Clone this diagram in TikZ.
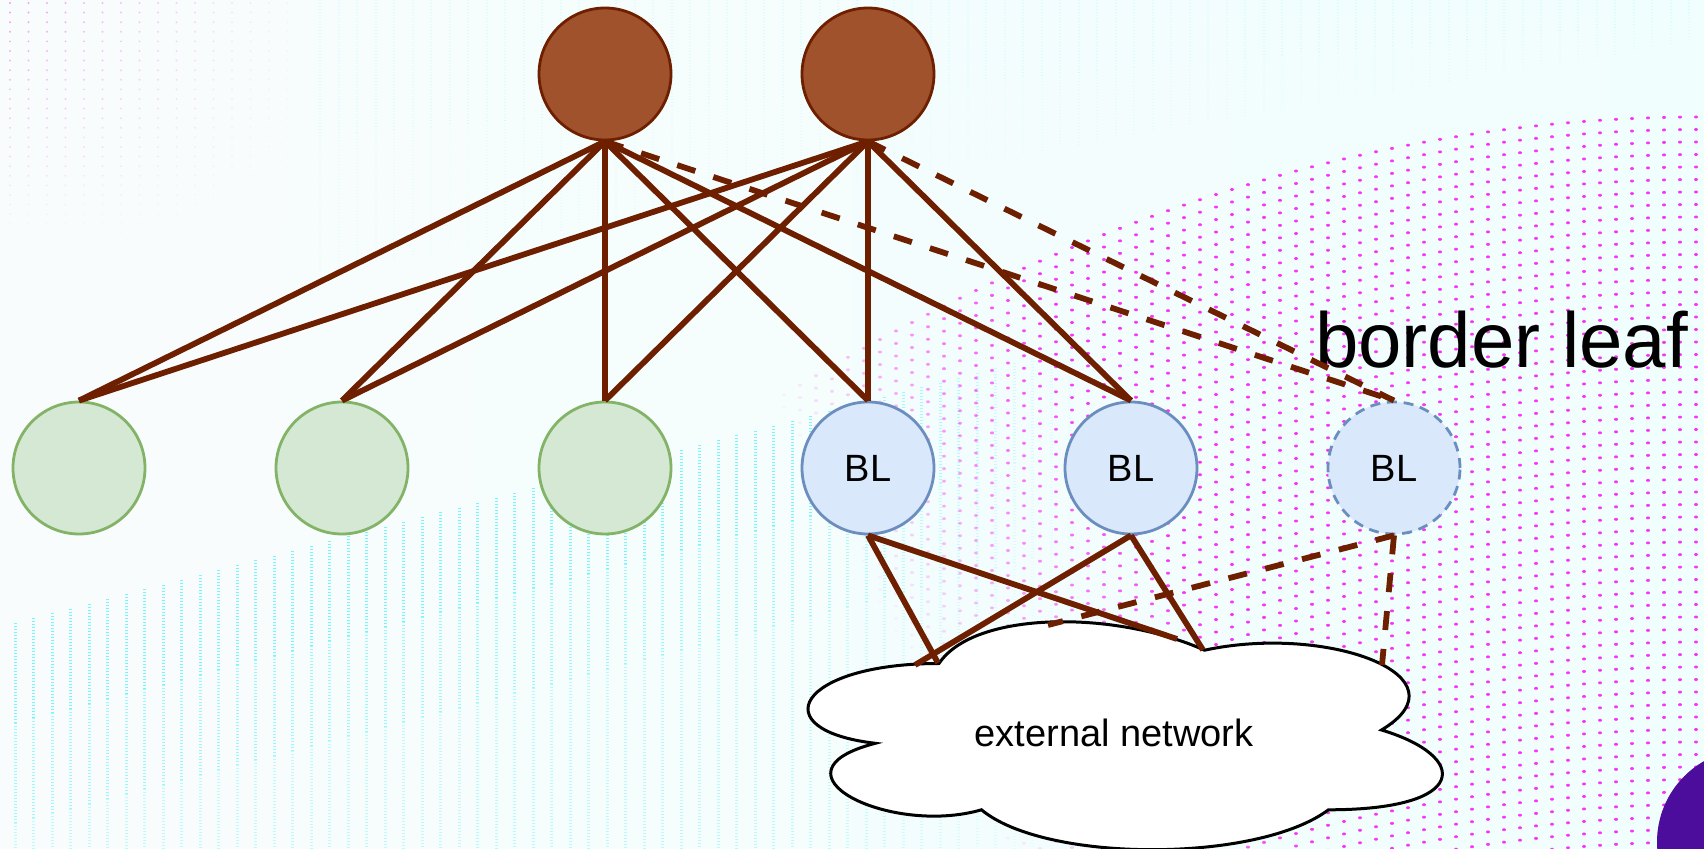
\documentclass[tikz,border=0pt]{standalone}
\usepackage{fontspec}
\setmainfont{Liberation Sans}

\definecolor{spinefill}{RGB}{160,82,45}
\definecolor{linkbrown}{RGB}{109,31,0}
\definecolor{leaffill}{RGB}{213,232,212}
\definecolor{leafdraw}{RGB}{130,179,102}
\definecolor{blfill}{RGB}{218,232,252}
\definecolor{bldraw}{RGB}{108,142,191}
\definecolor{bgleft}{RGB}{249,252,253}
\definecolor{bgright}{RGB}{240,254,253}
\definecolor{dotpink}{RGB}{250,20,245}
\definecolor{dotcyan}{RGB}{30,245,250}
\definecolor{cornerpurple}{RGB}{76,12,156}

\begin{document}
\begin{tikzpicture}[
        x=0.5pt, y=-0.5pt,
        spine/.style={circle, draw=linkbrown, line width=1.4pt, fill=spinefill, minimum size=66pt, inner sep=0pt},
        leaf/.style={circle, draw=leafdraw, line width=1.4pt, fill=leaffill, minimum size=66pt, inner sep=0pt},
        blnode/.style={circle, draw=bldraw, line width=1.4pt, fill=blfill, minimum size=66pt, inner sep=0pt, font=\fontsize{19}{22}\selectfont},
        blspare/.style={blnode, dash pattern=on 5pt off 3.4pt},
        link/.style={draw=linkbrown, line width=2.9pt},
        backup/.style={link, dash pattern=on 9.5pt off 9.5pt},
        cloudline/.style={draw=black, line width=1.5pt, fill=white}
    ]
        % Slide background
        \useasboundingbox (0,0) rectangle (1704,849);
        \clip (0,0) rectangle (1704,849);
        \shade[left color=bgleft, right color=bgright] (0,0) rectangle (1704,849);

        % faint dots, top left
        \foreach \px in {10,28.5,...,300} {
            \foreach \py in {3,12.6,...,240} {
                \pgfmathsetmacro\op{0.45*(1-\px/320)*(1-\py/250)}
                \fill[dotpink, opacity=\op] (\px,\py) circle [radius=0.55pt];
            }
        }

        % faint cyan columns along the top
        \foreach \px in {320,338.5,...,1704} {
            \pgfmathsetmacro\ybot{270-0.168*(\px-330)}
            \pgfmathsetmacro\ymid{\ybot/2}
            \draw[dotcyan, opacity=0.12, line width=1pt, dash pattern=on 0.5pt off 1pt] (\px,0) -- (\px,\ymid);
            \draw[dotcyan, opacity=0.06, line width=1pt, dash pattern=on 0.5pt off 1pt] (\px,\ymid) -- (\px,\ybot);
        }

        % cyan columns, lower left
        \foreach \px in {15,33.5,...,1100} {
            \pgfmathsetmacro\ytop{623-0.26*(\px-15)}
            \pgfmathsetmacro\ya{\ytop+100}
            \pgfmathsetmacro\yb{\ytop+200}
            \pgfmathsetmacro\op{min(0.6,max(0,(1100-\px)/500))}
            \pgfmathsetmacro\opa{0.7*\op}
            \pgfmathsetmacro\opb{0.45*\op}
            \draw[dotcyan, opacity=\op, line width=1.5pt, dash pattern=on 0.5pt off 1pt] (\px,\ytop) -- (\px,\ya);
            \draw[dotcyan, opacity=\opa, line width=1.5pt, dash pattern=on 0.5pt off 1pt] (\px,\ya) -- (\px,\yb);
            \draw[dotcyan, opacity=\opb, line width=1.5pt, dash pattern=on 0.5pt off 1pt] (\px,\yb) -- (\px,849);
        }

        % magenta dots, right side
        \foreach \px in {704,720,...,1700} {
            \pgfmathsetmacro\ytop{117+3.31*((\px-1700)/100)^2}
            \foreach \k in {0,...,60} {
                \pgfmathsetmacro\py{\ytop+12.5*\k}
                \ifdim\py pt<852pt
                    \pgfmathsetmacro\op{min(0.85,max(0,(\px-720-0.5*(\py-300))/380))}
                    \ifdim\op pt>0.02pt
                        \fill[dotpink, opacity=\op] (\px,\py) ellipse [x radius=1pt, y radius=0.75pt];
                    \fi
                \fi
            }
        }

        \fill[cornerpurple] (1750,842) circle [radius=46.5pt];

        % External network cloud
        \begin{scope}[shift={(762,597)}, x=354pt, y=-133pt]
            \path[cloudline] (0.25,0.25) .. controls (0.05,0.25) and (0,0.5) .. (0.16,0.55)
                .. controls (0,0.66) and (0.18,0.9) .. (0.31,0.8)
                .. controls (0.4,1) and (0.7,1) .. (0.8,0.8)
                .. controls (1,0.8) and (1,0.6) .. (0.875,0.5)
                .. controls (1,0.3) and (0.8,0.1) .. (0.625,0.2)
                .. controls (0.5,0.05) and (0.3,0.05) .. (0.25,0.25) -- cycle;
        \end{scope}
        \node[font=\fontsize{19}{22}\selectfont] (ext) at (1114,733) {external network};

        % cloud attach points
        \coordinate (c1) at (938,663);
        \coordinate (c2) at (1177,639);
        \coordinate (c3) at (915,665);
        \coordinate (c4) at (1203,650);
        \coordinate (c5) at (1048,625);
        \coordinate (c6) at (1382,665);

        % Spines (top)
        \node[spine] (sp1) at (605,74) {};
        \node[spine] (sp2) at (868,74) {};

        % Leaves and border leaves
        \node[leaf] (leaf1) at (79,468) {};
        \node[leaf] (leaf2) at (342,468) {};
        \node[leaf] (leaf3) at (605,468) {};
        \node[blnode] (bl1) at (868,468) {BL};
        \node[blnode] (bl2) at (1131,468) {BL};
        \node[blspare] (bl3) at (1394,468) {BL};

        \node[anchor=base west, font=\fontsize{39}{44}\selectfont] (bltitle) at (1308,368) {border leaf};

        % Spine 1 links
        \draw[link] (sp1.south) -- (leaf1.north);
        \draw[link] (sp1.south) -- (leaf2.north);
        \draw[link] (sp1.south) -- (leaf3.north);
        \draw[link] (sp1.south) -- (bl1.north);
        \draw[link] (sp1.south) -- (bl2.north);
        \draw[backup] (sp1.south) -- (bl3.north);

        % Spine 2 links
        \draw[link] (sp2.south) -- (leaf1.north);
        \draw[link] (sp2.south) -- (leaf2.north);
        \draw[link] (sp2.south) -- (leaf3.north);
        \draw[link] (sp2.south) -- (bl1.north);
        \draw[link] (sp2.south) -- (bl2.north);
        \draw[backup] (sp2.south) -- (bl3.north);

        % Border leaves to the external network
        \draw[link] (bl1.south) -- (c1);
        \draw[link] (bl1.south) -- (c2);
        \draw[link] (bl2.south) -- (c3);
        \draw[link] (bl2.south) -- (c4);
        \draw[backup] (bl3.south) -- (c5);
        \draw[backup] (bl3.south) -- (c6);

    \end{tikzpicture}
\end{document}
